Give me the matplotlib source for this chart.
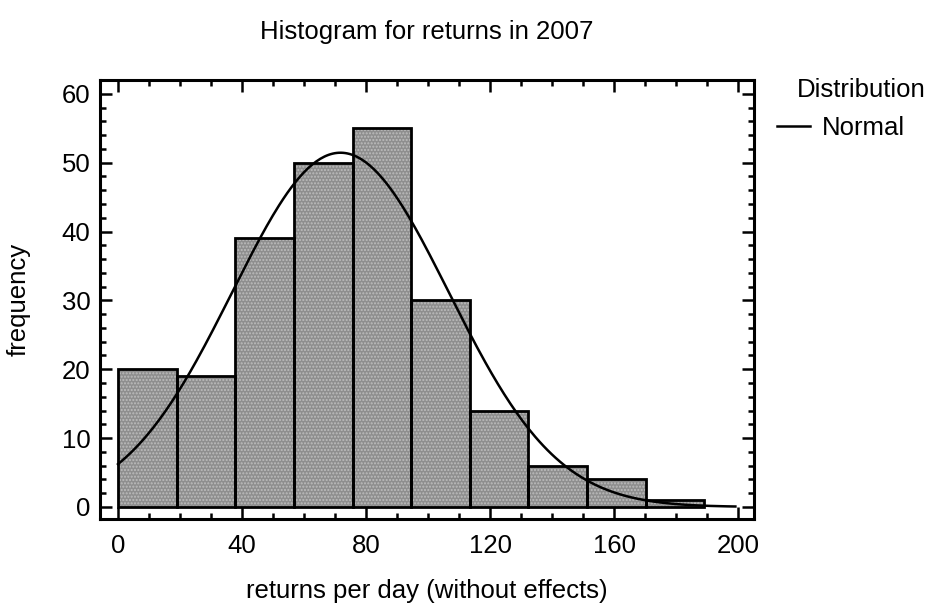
import numpy as np
import matplotlib
matplotlib.use("Agg")
import matplotlib.pyplot as plt
from matplotlib.ticker import MultipleLocator

plt.rcParams['font.family'] = ['Liberation Sans', 'DejaVu Sans']

# histogram of daily returns
bin_start = 0.0
bin_width = 18.9
counts = [20, 19, 39, 50, 55, 30, 14, 6, 4, 1]

edges = bin_start + bin_width * np.arange(len(counts) + 1)
lefts = edges[:-1]
centers = lefts + bin_width / 2

# fitted normal from the binned data
n_total = sum(counts)
mu = np.average(centers, weights=counts)
sd = np.sqrt(np.sum(np.array(counts) * (centers - mu) ** 2) / (n_total - 1))
xs = np.linspace(0, 199, 300)
ys = n_total * bin_width * np.exp(-0.5 * ((xs - mu) / sd) ** 2) / (sd * np.sqrt(2 * np.pi))

FS = 18.5

fig = plt.figure(figsize=(9.37, 6.03), dpi=100)
ax = fig.add_axes([0.1067, 0.1393, 0.698, 0.728])

# stippled grey fill, then black outlines on top
ax.bar(lefts, counts, width=bin_width, align='edge', facecolor='#8e8e8e',
       edgecolor='#bdbdbd', hatch='.....', linewidth=0, zorder=2)
ax.bar(lefts, counts, width=bin_width, align='edge', facecolor='none',
       edgecolor='black', linewidth=2.0, zorder=3)
normal_line, = ax.plot(xs, ys, color='black', linewidth=1.8, zorder=4)

ax.set_xlim(-5.8, 205)
ax.set_ylim(-1.75, 62)
ax.xaxis.set_major_locator(MultipleLocator(40))
ax.xaxis.set_minor_locator(MultipleLocator(10))
ax.yaxis.set_major_locator(MultipleLocator(10))
ax.yaxis.set_minor_locator(MultipleLocator(2))
ax.tick_params(which='both', direction='in', top=True, right=True,
               width=1.8, labelsize=FS, colors='black')
ax.tick_params(which='major', length=8.5)
ax.tick_params(which='minor', length=4)
ax.tick_params(axis='x', which='major', pad=11)
ax.tick_params(axis='y', which='major', pad=7)
for s in ax.spines.values():
    s.set_linewidth(2.2)

ax.set_xlabel('returns per day (without effects)', fontsize=FS, labelpad=15)
ax.set_ylabel('frequency', fontsize=FS, labelpad=22)
fig.text(0.455, 0.947, 'Histogram for returns in 2007', fontsize=FS, ha='center', va='center')

fig.text(0.850, 0.851, 'Distribution', fontsize=FS, va='center')
fig.legend(handles=[normal_line], labels=['Normal'], loc='center left',
           bbox_to_anchor=(0.815, 0.788), frameon=False, fontsize=FS,
           handlelength=1.3, handletextpad=0.45, borderpad=0)

fig.savefig('out.png', dpi=100)
